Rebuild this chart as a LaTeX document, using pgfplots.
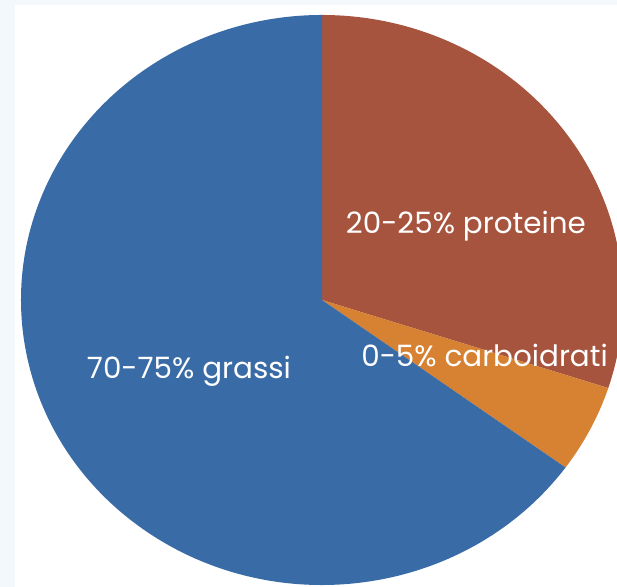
\documentclass[border=0pt]{standalone}
\usepackage{pgfplots}
\pgfplotsset{compat=1.18}
\usepackage{fontspec}
\setmainfont{Poppins}

\definecolor{bgc}{HTML}{F3F8FC}
\definecolor{grassi}{RGB}{57,107,166}
\definecolor{proteine}{RGB}{167,84,62}
\definecolor{carbo}{RGB}{214,130,50}

% slice values (percent), clockwise from the top
\def\vProt{30}
\def\vCarb{5}
\def\vGras{65}
\pgfmathsetmacro\aA{90}
\pgfmathsetmacro\aB{\aA-3.6*\vProt}
\pgfmathsetmacro\aC{\aB-3.6*\vCarb}
\pgfmathsetmacro\aD{\aC-3.6*\vGras}

\begin{document}
\begin{tikzpicture}[x=1bp,y=1bp]
\fill[bgc] (0,0) rectangle (617,587);
\fill[white] (15,0) rectangle (617,582);
\begin{axis}[
    at={(0,0)}, anchor=south west,
    scale only axis,
    width=617bp, height=587bp,
    xmin=-1.0698, xmax=0.9801,
    ymin=-1.007, ymax=1.0526,
    hide axis, clip=true,
]
\fill[proteine] (axis cs:0,0) -- (axis cs:{cos(\aA)},{sin(\aA)})
    arc[start angle=\aA, end angle=\aB, x radius=1, y radius=1] -- cycle;
\fill[carbo] (axis cs:0,0) -- (axis cs:{cos(\aB)},{sin(\aB)})
    arc[start angle=\aB, end angle=\aC, x radius=1, y radius=1] -- cycle;
\fill[grassi] (axis cs:0,0) -- (axis cs:{cos(\aC)},{sin(\aC)})
    arc[start angle=\aC, end angle=\aD, x radius=1, y radius=1] -- cycle;

\begin{scope}[every node/.style={text=white, anchor=base, inner sep=0pt,
    font=\fontsize{29.5}{29.5}\selectfont}]
\node at (axis cs:0.478,0.235) {20-25\% proteine};
\node at (axis cs:0.540,-0.235) {0-5\% carboidrati};
\node at (axis cs:-0.442,-0.277) {70-75\% grassi};
\end{scope}
\end{axis}
\end{tikzpicture}
\end{document}
